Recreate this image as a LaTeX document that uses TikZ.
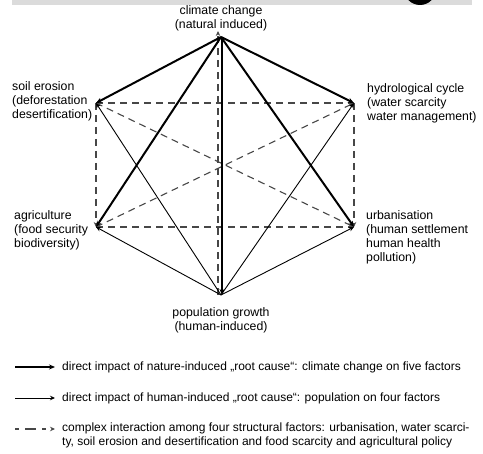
\documentclass[tikz,border=0pt]{standalone}
\usepackage{fontspec}
\setmainfont{Liberation Sans}
\usetikzlibrary{arrows.meta}
\begin{document}
\begin{tikzpicture}[x=1pt,y=-1pt,
 lbl/.style={inner sep=0pt, align=left, font=\fontsize{12.3}{14}\selectfont},
 leg/.style={inner sep=0pt, anchor=west, align=left, font=\fontsize{12}{13.5}\selectfont},
 thickarr/.style={line width=2pt, -{Stealth[length=6pt,width=5pt]}},
 thinarr/.style={line width=0.9pt, -{Stealth[length=5pt,width=4.5pt]}},
 dasharr/.style={line width=1.1pt, draw=black!72, dash pattern=on 7pt off 5pt, -{Stealth[length=5pt,width=4.5pt,fill=black!72]}},
]
\useasboundingbox (0,0) rectangle (483,454);
\fill[black!14] (12,0) rectangle (472,5);
\begin{scope}
\clip (0,0) rectangle (483,454);
\fill (420,-11) circle (16);
\end{scope}
% vertices
\coordinate (C) at (221,37);
\coordinate (S) at (96,103);
\coordinate (H) at (354,103);
\coordinate (A) at (96,227);
\coordinate (U) at (354,227);
\coordinate (P) at (221,295);
% labels
\node[lbl, align=center] (lc) at (221,18) {climate change\\(natural induced)};
\node[lbl, anchor=west] (ls) at (12,101) {soil erosion\\(deforestation\\desertification)};
\node[lbl, anchor=west] (lh) at (367,103) {hydrological cycle\\(water scarcity\\water management)};
\node[lbl, anchor=west] (la) at (14,230) {agriculture\\(food security\\biodiversity)};
\node[lbl, anchor=west] (lu) at (366,237) {urbanisation\\(human settlement\\human health\\pollution)};
\node[lbl, align=center] (lp) at (221,320) {population growth\\(human-induced)};
% dashed interactions
\draw[dasharr] (S) -- (H);
\draw[dasharr] (A) -- (U);
\draw[dasharr] (S) -- (A);
\draw[dasharr] (H) -- (U);
\draw[dasharr] (S) -- (U);
\draw[dasharr] (A) -- (H);
\draw[dasharr] ([xshift=-3pt]P) -- ([xshift=-3pt,yshift=6pt]C);
% population (thin)
\draw[thinarr] (P) -- (S);
\draw[thinarr] (P) -- (H);
\draw[thinarr] (P) -- (A);
\draw[thinarr] (P) -- (U);
% climate (thick)
\draw[thickarr] (C) -- (S);
\draw[thickarr] (C) -- (H);
\draw[thickarr] (C) -- (A);
\draw[thickarr] (C) -- (U);
\draw[thickarr] ([xshift=1pt]C) -- ([xshift=1pt]P);
% legend
\coordinate (l1a) at (15,367); \coordinate (l1b) at (55,367);
\coordinate (l2a) at (15,398); \coordinate (l2b) at (55,398);
\coordinate (l3a) at (15,429); \coordinate (l3b) at (55,429);
\draw[thickarr] (l1a) -- (l1b);
\draw[thinarr] (l2a) -- (l2b);
\draw[dasharr, dash pattern=on 4pt off 6pt on 11pt off 6pt] (l3a) -- (l3b);
\node[leg] (t1) at (62,367) {direct impact of nature-induced „root cause“: climate change on five factors};
\node[leg] (t2) at (62,398) {direct impact of human-induced „root cause“: population on four factors};
\node[leg, anchor=north west] (t3) at (62,423) {complex interaction among four structural factors: urbanisation, water scarci-\\ty, soil erosion and desertification and food scarcity and agricultural policy};
\end{tikzpicture}
\end{document}
